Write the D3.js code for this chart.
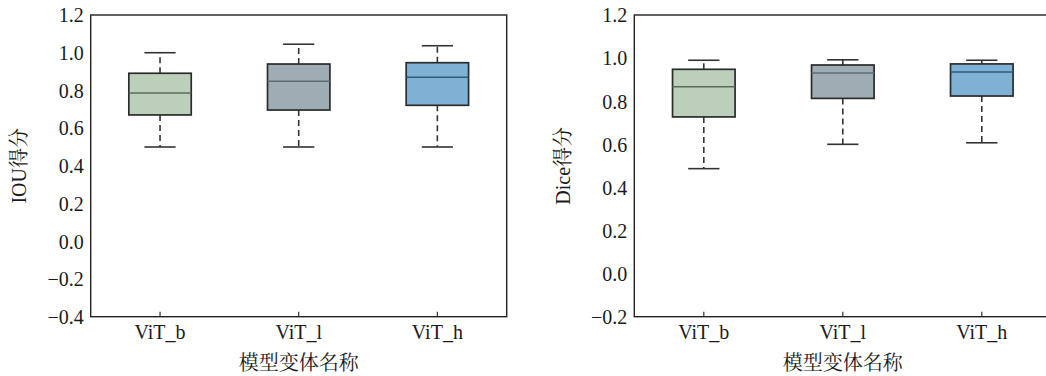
<!DOCTYPE html>
<html>
<head>
<meta charset="utf-8">
<script src="https://cdn.jsdelivr.net/npm/d3@7"></script>
<style>
  body { margin: 0; background: #fff; }
  svg { display: block; }
</style>
</head>
<body>
<svg id="chart" width="1046" height="376"></svg>
<script>
const categories = ['ViT_b', 'ViT_l', 'ViT_h'];
const boxFills = ['#bccfba', '#9eacb4', '#7fb1d4'];
const medianColors = ['#5b6c59', '#5c6b73', '#2f5877'];

// IOU scores (left panel)
const iouLow = [0.50, 0.50, 0.50];
const iouQ1 = [0.670, 0.696, 0.721];
const iouMedian = [0.786, 0.848, 0.870];
const iouQ3 = [0.891, 0.940, 0.947];
const iouHigh = [1.000, 1.045, 1.037];
const iouTicks = [-0.4, -0.2, 0.0, 0.2, 0.4, 0.6, 0.8, 1.0, 1.2];

// Dice scores (right panel)
const diceLow = [0.487, 0.600, 0.607];
const diceQ1 = [0.727, 0.813, 0.824];
const diceMedian = [0.867, 0.931, 0.935];
const diceQ3 = [0.948, 0.968, 0.973];
const diceHigh = [0.990, 0.992, 0.990];
const diceTicks = [-0.2, 0.0, 0.2, 0.4, 0.6, 0.8, 1.0, 1.2];

const svg = d3.select('#chart');
const serif = '"Liberation Serif", "Times New Roman", serif';
const cjk = '"Liberation Serif", "Noto Serif CJK SC", "Noto Sans CJK SC", serif';
const tickFmt = d3.format('.1f');
const minusFmt = (d) => tickFmt(d).replace('-', '\u2212');

function drawPanel(opts) {
    const { left, width, top, height, domain, ticks, yLabel, stats } = opts;

    const x = d3.scaleBand().domain(categories).range([0, width]).padding(0);
    const y = d3.scaleLinear().domain(domain).range([height, 0]);

    const g = svg.append('g').attr('transform', `translate(${left}, ${top})`);

    const rows = categories.map((c, i) => ({
        cat: c,
        lo: stats.lo[i], q1: stats.q1[i], med: stats.med[i], q3: stats.q3[i], hi: stats.hi[i],
        fill: boxFills[i], medColor: medianColors[i],
    }));

    const boxW = x.bandwidth() * 0.45;
    const capW = boxW / 2;

    const item = g.selectAll('g.box')
        .data(rows)
        .enter()
        .append('g')
        .attr('class', 'box')
        .attr('transform', (d) => `translate(${x(d.cat) + x.bandwidth() / 2}, 0)`);

    // whiskers (dashed)
    item.append('line')
        .attr('x1', 0).attr('x2', 0)
        .attr('y1', (d) => y(d.q3)).attr('y2', (d) => y(d.hi))
        .attr('stroke', '#333').attr('stroke-width', 1.6).attr('stroke-dasharray', '6,4');
    item.append('line')
        .attr('x1', 0).attr('x2', 0)
        .attr('y1', (d) => y(d.q1)).attr('y2', (d) => y(d.lo))
        .attr('stroke', '#333').attr('stroke-width', 1.6).attr('stroke-dasharray', '6,4');

    // caps
    item.append('line')
        .attr('x1', -capW / 2).attr('x2', capW / 2)
        .attr('y1', (d) => y(d.hi)).attr('y2', (d) => y(d.hi))
        .attr('stroke', '#333').attr('stroke-width', 1.6);
    item.append('line')
        .attr('x1', -capW / 2).attr('x2', capW / 2)
        .attr('y1', (d) => y(d.lo)).attr('y2', (d) => y(d.lo))
        .attr('stroke', '#333').attr('stroke-width', 1.6);

    // box
    item.append('rect')
        .attr('x', -boxW / 2)
        .attr('width', boxW)
        .attr('y', (d) => y(d.q3))
        .attr('height', (d) => y(d.q1) - y(d.q3))
        .attr('fill', (d) => d.fill)
        .attr('stroke', '#2b2b2b')
        .attr('stroke-width', 1.7);

    // median
    item.append('line')
        .attr('x1', -boxW / 2).attr('x2', boxW / 2)
        .attr('y1', (d) => y(d.med)).attr('y2', (d) => y(d.med))
        .attr('stroke', (d) => d.medColor).attr('stroke-width', 1.5);

    // axes
    const xAxis = d3.axisBottom(x).tickSizeInner(-5).tickSizeOuter(0).tickPadding(8);
    const xg = g.append('g').attr('transform', `translate(0, ${height})`).call(xAxis);
    xg.select('.domain').remove();
    xg.selectAll('.tick line').attr('stroke', '#333').attr('stroke-width', 1.2);
    xg.selectAll('.tick text')
        .style('font-family', serif).style('font-size', '20px').attr('fill', '#1a1a1a');

    const yAxis = d3.axisLeft(y).tickValues(ticks).tickFormat(minusFmt).tickSizeInner(0).tickSizeOuter(0).tickPadding(7);
    const yg = g.append('g').call(yAxis);
    yg.select('.domain').remove();
    yg.selectAll('.tick text')
        .attr('dy', '0.34em')
        .style('font-family', serif).style('font-size', '20px').attr('fill', '#1a1a1a');

    // frame
    g.append('rect')
        .attr('x', 0).attr('y', 0)
        .attr('width', width).attr('height', height)
        .attr('fill', 'none')
        .attr('stroke', '#222')
        .attr('stroke-width', 1.4);

    // titles
    g.append('text')
        .attr('x', width / 2)
        .attr('y', height + 53)
        .attr('text-anchor', 'middle')
        .style('font-family', cjk).style('font-size', '20px').attr('fill', '#1a1a1a')
        .text('模型变体名称');

    g.append('text')
        .attr('transform', `translate(${opts.yLabelX - left}, ${height / 2}) rotate(-90)`)
        .attr('text-anchor', 'middle')
        .attr('dy', '0.35em')
        .style('font-family', cjk).style('font-size', '20px').attr('fill', '#1a1a1a')
        .text(yLabel);
}

drawPanel({
    left: 90.7, width: 416, top: 15, height: 301.7,
    domain: [-0.4, 1.2], ticks: iouTicks, yLabel: 'IOU得分', yLabelX: 19,
    stats: { lo: iouLow, q1: iouQ1, med: iouMedian, q3: iouQ3, hi: iouHigh },
});

drawPanel({
    left: 634.3, width: 417, top: 15, height: 301.7,
    domain: [-0.2, 1.2], ticks: diceTicks, yLabel: 'Dice得分', yLabelX: 563,
    stats: { lo: diceLow, q1: diceQ1, med: diceMedian, q3: diceQ3, hi: diceHigh },
});
</script>
</body>
</html>
